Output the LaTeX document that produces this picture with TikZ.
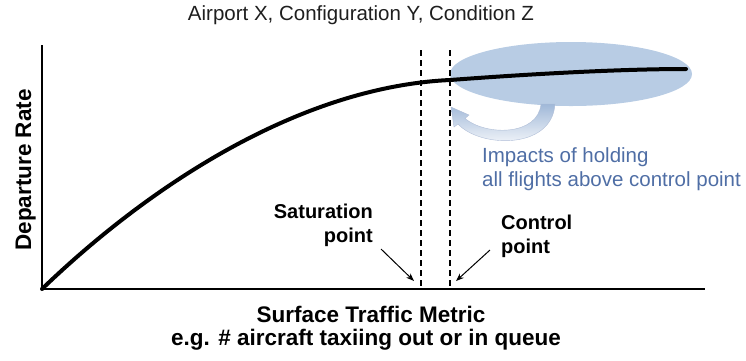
\documentclass[tikz,border=0pt]{standalone}
\usepackage{fontspec}
\setmainfont{Liberation Sans}
\usetikzlibrary{arrows.meta}
\definecolor{zoneblue}{RGB}{184,204,228}
\definecolor{arrowblue}{RGB}{160,184,216}
\definecolor{notetext}{RGB}{79,110,165}
\definecolor{titlegray}{RGB}{30,30,30}
\tikzset{
  axisline/.style={line width=2pt, black},
  curveline/.style={line width=4pt, black, line cap=round},
  limitline/.style={line width=1.4pt, black, dash pattern=on 6pt off 4pt},
  pointer/.style={line width=1pt, black, -{Stealth[length=8pt,width=6pt]}},
  boldlabel/.style={font=\bfseries\fontsize{20}{23.5}\selectfont, text=black, inner sep=0pt},
  axislabel/.style={font=\bfseries\fontsize{22.5}{23}\selectfont, text=black, inner sep=0pt},
  notelabel/.style={font=\fontsize{20.5}{23.5}\selectfont, text=notetext, inner sep=0pt, align=left}
}
\begin{document}
\begin{tikzpicture}[x=1pt,y=-1pt]
\useasboundingbox (0,0) rectangle (746,360);

% highlighted operating region
\fill[zoneblue] (571,74) ellipse [x radius=121, y radius=32];

% curved feedback arrow under the region
\shade[top color=arrowblue, bottom color=white, draw=notetext!45, line width=0.4pt]
  (555,104) .. controls (552,150) and (480,148) .. (458,124)
  -- (454,127) -- (451,107) -- (469,115) -- (465,118.5)
  .. controls (486,136) and (538,136) .. (541,104) -- cycle;

% axes
\coordinate (origin) at (42,289);
\coordinate (ytop) at (42,45);
\coordinate (xend) at (705,289);
\draw[axisline] (ytop) -- (origin) -- (xend);

% saturation and control limits
\coordinate (sattop) at (421,50);
\coordinate (satbot) at (421,289);
\coordinate (ctltop) at (450,50);
\coordinate (ctlbot) at (450,289);
\draw[limitline] (sattop) -- (satbot);
\draw[limitline] (ctltop) -- (ctlbot);

% departure rate curve
\coordinate (knee) at (450,80);
\coordinate (curveend) at (686,69);
\draw[curveline] (origin) .. controls (150,185) and (300,87) .. (knee)
  .. controls (530,74) and (620,69) .. (curveend);

% texts (multi-line nodes are anchored on the baseline of their last line)
\node[font=\fontsize{20.5}{24}\selectfont, text=titlegray, inner sep=0pt, anchor=base] (title) at (361,20) {Airport X, Configuration Y, Condition Z};
\node[axislabel, rotate=90, anchor=base] (ylab) at (31,170) {Departure Rate};
\node[axislabel, anchor=base] (xlab1) at (371,322) {Surface Traffic Metric};
\node[axislabel, anchor=base] (xlab2) at (366,345) {e.g. \# aircraft taxiing out or in queue};

\node[boldlabel, align=right, anchor=base east] (sat) at (373,242) {Saturation\\point};
\node[boldlabel, align=left, anchor=base west] (ctl) at (501,253) {Control\\point};

\node[notelabel, anchor=base west] (note) at (482,186) {Impacts of holding\\all flights above control point};

% pointers to the limits
\coordinate (satpt) at (414,281);
\coordinate (ctlpt) at (456,281);
\draw[pointer] (381,249) -- (satpt);
\draw[pointer] (490,250) -- (ctlpt);
\end{tikzpicture}
\end{document}
